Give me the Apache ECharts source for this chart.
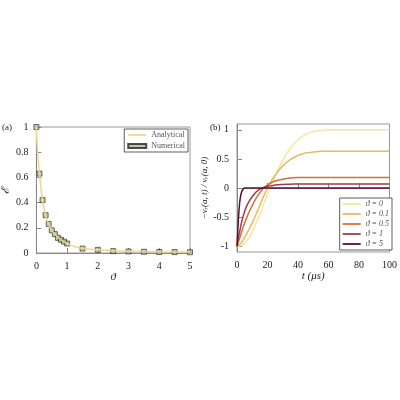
<!DOCTYPE html>
<html><head><meta charset="utf-8">
<script src="https://cdn.jsdelivr.net/npm/echarts@6/dist/echarts.min.js"></script>
<style>html,body{margin:0;background:#fff}#main{width:400px;height:400px}</style>
</head><body><div id="main"></div>
<script>
// panel (a): efficiency vs theta
var thetaNum = [0,0.1,0.2,0.3,0.4,0.5,0.6,0.7,0.8,0.9,1,1.5,2,2.5,3,3.5,4,4.5,5];
var effNum = [1,0.63,0.42,0.30,0.23,0.18,0.15,0.12,0.105,0.09,0.075,0.035,0.025,0.015,0.012,0.01,0.008,0.007,0.006];
var thetaAna = [0,0.02,0.05,0.1,0.15,0.2,0.3,0.4,0.5,0.6,0.8,1,1.25,1.5,2,2.5,3,3.5,4,4.5,5];
var effAna = [1,0.88,0.76,0.63,0.51,0.42,0.30,0.23,0.18,0.15,0.105,0.075,0.05,0.037,0.025,0.017,0.013,0.011,0.009,0.008,0.007];

// panel (b): normalized velocity vs time
var tMain = [0,2.5,5,7.5,10,12.5,15,17.5,20,22.5,25,30,35,40,45,50,55,60,70,80,90,100];
var vTheta0   = [-1,-0.99,-0.95,-0.87,-0.75,-0.61,-0.45,-0.28,-0.1,0.06,0.2,0.48,0.68,0.83,0.92,0.97,0.99,1,1,1,1,1];
var vTheta01  = [-1,-0.95,-0.85,-0.73,-0.6,-0.45,-0.3,-0.14,0,0.12,0.22,0.38,0.49,0.56,0.6,0.62,0.63,0.63,0.63,0.63,0.63,0.63];
var vTheta05  = [-1,-0.8,-0.6,-0.44,-0.3,-0.18,-0.08,0,0.05,0.09,0.12,0.15,0.17,0.18,0.18,0.18,0.18,0.18,0.18,0.18,0.18,0.18];
var vTheta1   = [-1,-0.65,-0.4,-0.25,-0.15,-0.07,-0.02,0.01,0.03,0.04,0.05,0.06,0.065,0.07,0.07,0.07,0.07,0.07,0.07,0.07,0.07,0.07];
var tFast = [0,0.5,1,1.5,2,3,4,5,7,10,100];
var vTheta5   = [-1,-0.75,-0.5,-0.33,-0.2,-0.07,-0.02,0,0,0,0];

var labels = ['ϑ = 0','ϑ = 0.1','ϑ = 0.5','ϑ = 1','ϑ = 5'];
var colors = ['#f6e6a0','#e8b862','#d2722f','#9c3d4c','#5a1030'];

function zip(a, b) { return a.map(function (x, i) { return [x, b[i]]; }); }

var font = 'Liberation Serif';
var lineIcon = 'path://M0,0 H20 V2 H0 Z';
var axisBase = {
  axisLine: {show: true, lineStyle: {color: '#888'}},
  axisTick: {inside: true, lineStyle: {color: '#888'}},
  splitLine: {show: false},
  axisLabel: {color: '#222', fontFamily: font, fontSize: 10},
  nameTextStyle: {color: '#222', fontFamily: font, fontSize: 11, fontStyle: 'italic'}
};

var myChart = echarts.init(document.getElementById('main'));
var rightSeries = [vTheta0, vTheta01, vTheta05, vTheta1].map(function (v, i) {
  return {name: labels[i], type: 'line', xAxisIndex: 1, yAxisIndex: 1, data: zip(tMain, v),
    smooth: true, symbol: 'none', lineStyle: {width: 1.5, color: colors[i]}, itemStyle: {color: colors[i]}};
});
rightSeries.push({name: labels[4], type: 'line', xAxisIndex: 1, yAxisIndex: 1, data: zip(tFast, vTheta5),
  smooth: true, symbol: 'none', lineStyle: {width: 1.5, color: colors[4]}, itemStyle: {color: colors[4]}});

var option = {
  animation: false,
  textStyle: {fontFamily: font},
  grid: [
    {left: 30, right: 210, top: 127, bottom: 147, show: true, borderColor: '#999', borderWidth: 1},
    {left: 237, right: 6, top: 124, bottom: 148, show: true, borderColor: '#999', borderWidth: 1}
  ],
  legend: [
    {data: [{name: 'Analytical', icon: lineIcon}, {name: 'Numerical', icon: 'rect'}],
      right: 212, top: 129, orient: 'vertical', itemGap: 3,
      itemWidth: 18, itemHeight: 4, backgroundColor: '#fff', borderColor: '#333', borderWidth: 0.8, padding: [2, 3],
      textStyle: {fontFamily: font, fontSize: 8}},
    {data: labels.map(function (l) { return {name: l, icon: lineIcon}; }), right: 8, top: 198, orient: 'vertical', itemGap: 2,
      itemWidth: 18, itemHeight: 2, backgroundColor: '#fff', borderColor: '#333', borderWidth: 0.8, padding: [2, 3],
      textStyle: {fontFamily: font, fontSize: 8, fontStyle: 'italic'}}
  ],
  xAxis: [
    Object.assign({}, axisBase, {gridIndex: 0, type: 'value', min: 0, max: 5, interval: 1,
      name: 'ϑ', nameLocation: 'middle', nameGap: 13}),
    Object.assign({}, axisBase, {gridIndex: 1, type: 'value', min: 0, max: 100, interval: 20,
      name: 't (μs)', nameLocation: 'middle', nameGap: 14})
  ],
  yAxis: [
    Object.assign({}, axisBase, {gridIndex: 0, type: 'value', min: 0, max: 1, interval: 0.2,
      name: 'ℰ', nameLocation: 'middle', nameGap: 20}),
    Object.assign({}, axisBase, {gridIndex: 1, type: 'value', min: -1.1, max: 1.1,
      axisLabel: Object.assign({}, axisBase.axisLabel, {customValues: [-1, -0.5, 0, 0.5, 1]}),
      axisTick: Object.assign({}, axisBase.axisTick, {customValues: [-1, -0.5, 0, 0.5, 1]}),
      name: '−vᵣ(a, t) / vᵣ(a, 0)', nameLocation: 'middle', nameGap: 22,
      nameTextStyle: Object.assign({}, axisBase.nameTextStyle, {fontSize: 9})})
  ],
  graphic: [
    {type: 'text', left: 2, top: 123, style: {text: '(a)', font: '9px Liberation Serif', fill: '#222'}},
    {type: 'text', left: 210, top: 123, style: {text: '(b)', font: '9px Liberation Serif', fill: '#222'}}
  ],
  series: [
    {name: 'Analytical', type: 'line', data: zip(thetaAna, effAna), smooth: true, symbol: 'none',
      lineStyle: {width: 1.5, color: '#ead88a'}, itemStyle: {color: '#ead88a'}},
    {name: 'Numerical', type: 'scatter', data: zip(thetaNum, effNum), symbol: 'rect', symbolSize: 5,
      itemStyle: {color: '#b8b890', borderColor: '#222', borderWidth: 0.8}}
  ].concat(rightSeries)
};

myChart.setOption(option);
window.onresize = function () { myChart.resize(); };
</script></body></html>
